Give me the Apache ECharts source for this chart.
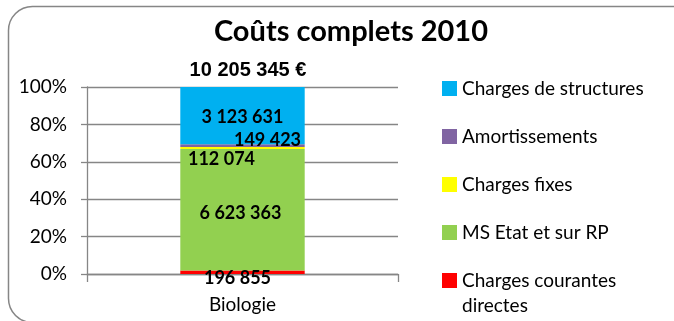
<!DOCTYPE html>
<html>
<head>
<meta charset="utf-8">
<script src="https://cdn.jsdelivr.net/npm/echarts@6/dist/echarts.min.js"></script>
<style>
  html, body { margin: 0; padding: 0; background: #ffffff; }
  #chart { width: 674px; height: 321px; }
</style>
</head>
<body>
<div id="chart"></div>
<script>
// Full costs 2010, one category, stacked to 100 %
const categories = ['Biologie'];
const seriesNames = ['Charges courantes directes', 'MS Etat et sur RP', 'Charges fixes', 'Amortissements', 'Charges de structures'];
const costValues = [196855, 6623363, 112074, 149423, 3123631];
const totalCost = 10205345;
const chartTitle = 'Coûts complets 2010';
const legendOrder = ['Charges de structures', 'Amortissements', 'Charges fixes', 'MS Etat et sur RP', 'Charges courantes directes'];

const colors = ['#FF0000', '#92D050', '#FFFF00', '#8064A2', '#00B0F0'];
// per-segment label nudges (px)
const labelOffsets = [[-5, 6], [-2, 3], [-21, 11], [25, -5], [0, 2]];

const fmt = v => String(v).replace(/\B(?=(\d{3})+(?!\d))/g, ' ');
const sum = costValues.reduce((a, b) => a + b, 0);
const AXIS = '#868686';
const FONT = 'Lato';

const chart = echarts.init(document.getElementById('chart'), null, { renderer: 'canvas' });

const series = seriesNames.map((name, i) => ({
  name,
  type: 'bar',
  stack: 'total',
  barWidth: '40%',
  itemStyle: { color: colors[i] },
  label: {
    show: true,
    position: 'inside',
    offset: labelOffsets[i],
    color: '#000',
    fontFamily: FONT,
    fontWeight: 'bold',
    fontSize: 18,
    formatter: () => fmt(costValues[i])
  },
  data: categories.map(() => costValues[i] / sum * 100)
}));

chart.setOption({
  animation: false,
  title: [
    {
      text: chartTitle,
      left: 346, textAlign: 'center', top: 12,
      textStyle: { fontFamily: FONT, fontWeight: 'bold', fontSize: 29, color: '#000' }
    },
    {
      text: fmt(totalCost) + ' €',
      left: 243, textAlign: 'center', top: 55,
      textStyle: { fontFamily: 'Liberation Sans', fontWeight: 'bold', fontSize: 20, color: '#000' }
    }
  ],
  graphic: [
    {
      type: 'rect', silent: true, z: -1,
      shape: { x: 8.5, y: 6.5, width: 690, height: 316, r: 24 },
      style: { fill: 'none', stroke: AXIS, lineWidth: 1.5 }
    },
    {
      type: 'text', left: 462, top: 296,
      style: { text: 'directes', fontFamily: FONT, fontSize: 19, fill: '#000' }
    }
  ],
  legend: {
    orient: 'vertical',
    left: 442, top: 79, padding: 0,
    itemWidth: 15, itemHeight: 15, itemGap: 29,
    icon: 'rect',
    data: legendOrder.map(n => ({ name: n })),
    formatter: n => n === 'Charges courantes directes' ? 'Charges courantes' : n,
    textStyle: { fontFamily: FONT, fontSize: 19, color: '#000' },
    selectedMode: false
  },
  grid: { left: 87, right: 276, top: 87, bottom: 47, containLabel: false },
  xAxis: {
    type: 'category',
    data: categories,
    boundaryGap: true,
    axisLine: { lineStyle: { color: AXIS, width: 1.3 } },
    axisTick: { show: true, alignWithLabel: false, length: 8, lineStyle: { color: AXIS, width: 1.3 } },
    axisLabel: { margin: 21, fontFamily: FONT, fontSize: 19, color: '#000' }
  },
  yAxis: {
    type: 'value',
    min: 0, max: 100, interval: 20,
    axisLine: { show: true, lineStyle: { color: AXIS, width: 1.3 } },
    axisTick: { show: true, length: 6, lineStyle: { color: AXIS, width: 1.3 } },
    splitLine: { show: true, lineStyle: { color: AXIS, width: 1.3 } },
    axisLabel: { margin: 20, fontFamily: FONT, fontSize: 19, color: '#000', formatter: '{value}%' }
  },
  series
});
</script>
</body>
</html>
